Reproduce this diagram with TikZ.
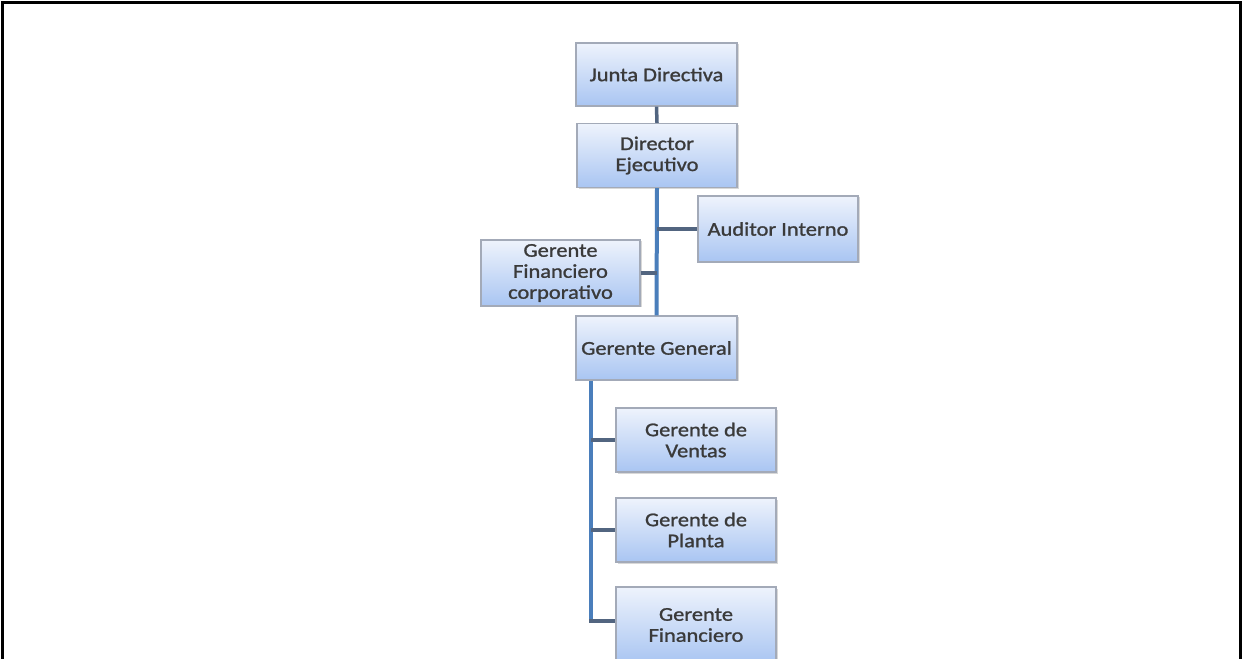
\documentclass[tikz,border=0pt]{standalone}
\usepackage{fontspec}
\newfontfamily\boxfont[FakeStretch=1.15,FakeBold=1.2]{Carlito}
\usetikzlibrary{shadows,calc}
\definecolor{boxtop}{HTML}{EEF3FC}
\definecolor{boxbot}{HTML}{A9C5F2}
\definecolor{boxedge}{HTML}{A3AAB8}
\definecolor{trunk}{HTML}{4A7EBB}
\definecolor{link}{HTML}{526580}
\definecolor{txt}{HTML}{3A3A3A}
\tikzset{
  unit/.style={draw=boxedge, line width=1.2pt, top color=boxtop, bottom color=boxbot,
    minimum width=160pt, minimum height=64pt, align=center, inner sep=0pt,
    font=\boxfont\fontsize{19.5}{21}\selectfont, text=txt,
    drop shadow={shadow xshift=1.5pt, shadow yshift=-1.5pt, opacity=0.3, fill=gray}},
  trunkline/.style={draw=trunk, line width=4pt},
  linkline/.style={draw=link, line width=3.5pt},
}
\begin{document}
\begin{tikzpicture}[x=1pt,y=-1pt]
\useasboundingbox (0,0) rectangle (1243,660);
\clip (0,0) rectangle (1243,658);
\fill[white] (0,0) rectangle (1243,660);
\draw[line width=3pt, black] (2.5,662) -- (2.5,2.5) -- (1240.5,2.5) -- (1240.5,662);

\node[unit, minimum width=161pt, minimum height=63pt] (jd) at (656.5,74.5) {Junta Directiva};
\node[unit] (de) at (657,155.5) {Director\\Ejecutivo};
\node[unit, minimum height=66pt] (ai) at (778,229) {Auditor Interno};
\node[unit, minimum width=159pt, minimum height=66pt] (gfc) at (560.5,273) {Gerente\\Financiero\\corporativo};
\node[unit, minimum width=161pt] (gg) at (656.5,348) {Gerente General};
\node[unit] (gv) at (696,440) {Gerente de\\Ventas};
\node[unit] (gp) at (696,530) {Gerente de\\Planta};
\node[unit, minimum height=76pt] (gf) at (696,625) {Gerente\\Financiero};

\coordinate (ggt) at ($(gg.south west)+(16,0)$);

\draw[linkline] (jd.south) -- (de.north);
\draw[trunkline] (de.south) -- (gg.north);
\draw[linkline] (de.south |- ai.west) -- (ai.west);
\draw[linkline] (gfc.east) -- (de.south |- gfc.east);
\draw[trunkline] (ggt) -- (ggt |- 0,621);
\draw[linkline] (ggt |- gv.west) -- (gv.west);
\draw[linkline] (ggt |- gp.west) -- (gp.west);
\draw[linkline] ($(ggt |- 0,621)+(-2,0)$) -- (gf.west |- 0,621);
\end{tikzpicture}
\end{document}
